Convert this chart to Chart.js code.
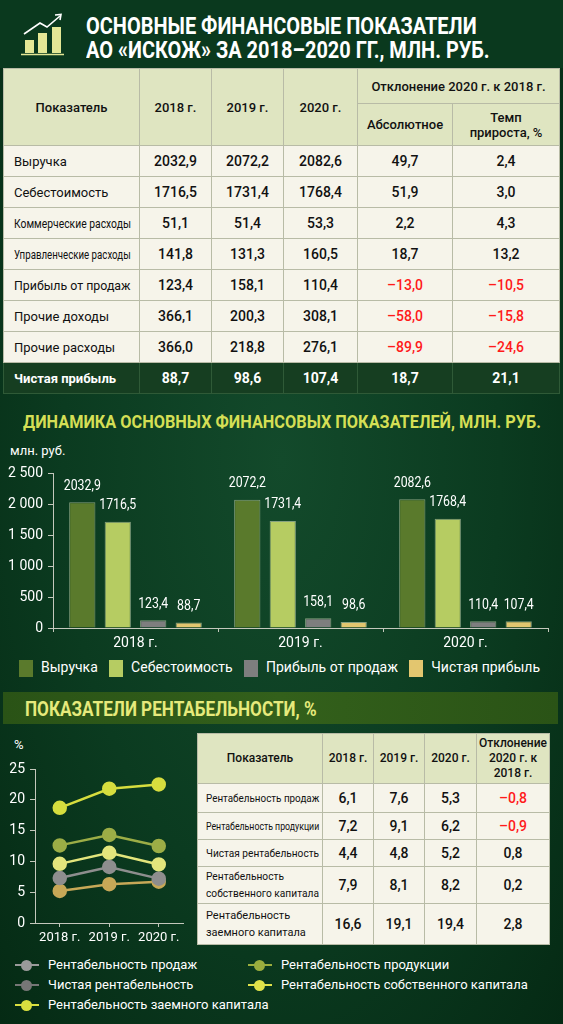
<!DOCTYPE html>
<html lang="ru">
<head>
    <meta charset="UTF-8">
    <title>Основные финансовые показатели АО «ИСКОЖ»</title>
    <script src="https://cdn.jsdelivr.net/npm/chart.js"></script>
    <style>
        html, body { margin:0; padding:0; }
        body { width:563px; height:1024px; position:relative; overflow:hidden; font-family: Roboto, 'Noto Sans', Arial, sans-serif;
               background: radial-gradient(ellipse at 50% 45%, #134a2b 0%, #0b3b20 55%, #052a14 100%); color:#fff; }
        .abs { position:absolute; }
        .cond { font-family: Roboto, 'Noto Sans', sans-serif; font-weight:700; white-space:nowrap; transform-origin:left top; }
        .fit { display:inline-block; white-space:nowrap; transform-origin:left center; }
        #header { left:0; top:0; width:563px; height:68px; background:#0a391e; }
        .ttl { left:86px; font-size:24px; line-height:24px; color:#fff; }
        table { border-collapse:collapse; color:#111; table-layout:fixed; }
        td, th { border:1px solid #b8bba6; text-align:center; padding:0; overflow:hidden; }
        #finTable { left:3px; top:68px; width:557px; font-size:13px; }
        #finTable th { background:#dfe5c1; font-weight:500; }
        #finTable td { background:#f6f4ea; height:30px; font-weight:500; font-size:14px; }
        #finTable td.lbl { text-align:left; padding-left:10px; font-weight:400; font-size:13px; }
        #finTable tr.total td { background:#163e21; color:#fff; font-weight:700; border-color:#2f5a37; }
        .neg { color:#ff1a1a !important; }
        #barTitle { left:23px; top:412px; font-size:19px; line-height:20px; color:#d4df55; }
        #barUnit { left:10px; top:443px; font-size:13px; }
        #barWrap { left:0; top:460px; width:563px; height:192px; }
        #barLegend { left:19px; top:659px; width:521px; display:flex; justify-content:space-between; font-size:14px; }
        #barLegend span.sw { display:inline-block; width:14px; height:17px; vertical-align:middle; margin-right:8px; }
        #band { left:3px; top:692px; width:555px; height:32px; background:linear-gradient(90deg,#2a5316,#33601b 50%,#2a5316); }
        #bandTitle { left:25px; top:699px; font-size:20px; line-height:20px; color:#e6ea7c; }
        #pctUnit { left:14px; top:737px; font-size:13px; }
        #lineWrap { left:0; top:755px; width:192px; height:195px; }
        #rentTable { left:197px; top:733px; width:353px; font-size:11px; }
        #rentTable th { background:#dfe5c1; font-weight:500; font-size:12px; height:49px; line-height:15px; }
        #rentTable td { background:#f6f4ea; font-size:14px; font-weight:500; }
        #rentTable td.lbl { text-align:left; padding-left:8px; font-size:11px; font-weight:400; line-height:17px; }
        #lineLegend { left:15px; top:957px; width:540px; font-size:13px; display:grid; grid-template-columns:233px 300px; row-gap:5px; }
        #lineLegend div { height:15px; line-height:15px; white-space:nowrap; }
        .mk { display:inline-block; position:relative; width:24px; height:15px; vertical-align:middle; margin-right:9px; }
        .mk i { position:absolute; left:0; top:6px; width:24px; height:2px; }
        .mk b { position:absolute; left:6px; top:2px; width:11px; height:11px; border-radius:50%; }
    </style>
</head>
<body>
    <div id="header" class="abs">
        <svg class="abs" style="left:0;top:0" width="80" height="68">
            <rect x="25" y="40" width="9" height="13" fill="#e4e795"/>
            <rect x="38" y="33" width="9" height="20" fill="#e4e795"/>
            <rect x="52" y="27" width="9" height="26" fill="#e4e795"/>
            <line x1="21" y1="54.5" x2="64" y2="54.5" stroke="#e4e795" stroke-width="1.5"/>
            <polyline points="24,34 40,23 47,27 60,16" fill="none" stroke="#fff" stroke-width="1.6"/>
            <polyline points="55,15 61,14.5 60,20" fill="none" stroke="#fff" stroke-width="1.6"/>
        </svg>
        <div id="title1" class="abs cond ttl" style="top:14px">ОСНОВНЫЕ ФИНАНСОВЫЕ ПОКАЗАТЕЛИ</div>
        <div id="title2" class="abs cond ttl" style="top:38px">АО «ИСКОЖ» ЗА 2018–2020 ГГ., МЛН. РУБ.</div>
    </div>

    <table id="finTable" class="abs">
        <colgroup><col style="width:136px"><col style="width:72px"><col style="width:72px"><col style="width:74px"><col style="width:95px"><col></colgroup>
        <thead>
            <tr style="height:35px">
                <th rowspan="2">Показатель</th>
                <th rowspan="2">2018 г.</th>
                <th rowspan="2">2019 г.</th>
                <th rowspan="2">2020 г.</th>
                <th colspan="2">Отклонение 2020 г. к 2018 г.</th>
            </tr>
            <tr style="height:42px">
                <th>Абсолютное</th>
                <th>Темп<br>прироста, %</th>
            </tr>
        </thead>
        <tbody id="finBody"></tbody>
    </table>

    <div id="barTitle" class="abs cond">ДИНАМИКА ОСНОВНЫХ ФИНАНСОВЫХ ПОКАЗАТЕЛЕЙ, МЛН. РУБ.</div>
    <div id="barUnit" class="abs">млн. руб.</div>
    <div id="barWrap" class="abs"><canvas id="barChart"></canvas></div>
    <div id="barLegend" class="abs"></div>

    <div id="band" class="abs"></div>
    <div id="bandTitle" class="abs cond">ПОКАЗАТЕЛИ РЕНТАБЕЛЬНОСТИ, %</div>
    <div id="pctUnit" class="abs">%</div>
    <div id="lineWrap" class="abs"><canvas id="lineChart"></canvas></div>

    <table id="rentTable" class="abs">
        <colgroup><col style="width:125px"><col style="width:51px"><col style="width:51px"><col style="width:52px"><col></colgroup>
        <thead>
            <tr>
                <th>Показатель</th>
                <th>2018 г.</th>
                <th>2019 г.</th>
                <th>2020 г.</th>
                <th>Отклонение<br>2020 г. к<br>2018 г.</th>
            </tr>
        </thead>
        <tbody id="rentBody"></tbody>
    </table>

    <div id="lineLegend" class="abs"></div>

    <script>
    // таблица основных показателей
    const finNames = ['Выручка', 'Себестоимость', 'Коммерческие расходы', 'Управленческие расходы', 'Прибыль от продаж', 'Прочие доходы', 'Прочие расходы', 'Чистая прибыль'];
    const fin2018 = [2032.9, 1716.5, 51.1, 141.8, 123.4, 366.1, 366.0, 88.7];
    const fin2019 = [2072.2, 1731.4, 51.4, 131.3, 158.1, 200.3, 218.8, 98.6];
    const fin2020 = [2082.6, 1768.4, 53.3, 160.5, 110.4, 308.1, 276.1, 107.4];
    const finAbs = [49.7, 51.9, 2.2, 18.7, -13.0, -58.0, -89.9, 18.7];
    const finRate = [2.4, 3.0, 4.3, 13.2, -10.5, -15.8, -24.6, 21.1];

    // столбчатая диаграмма
    const years = ['2018 г.', '2019 г.', '2020 г.'];
    const barSeries = ['Выручка', 'Себестоимость', 'Прибыль от продаж', 'Чистая прибыль'];
    const revenue = [2032.9, 2072.2, 2082.6];
    const cost = [1716.5, 1731.4, 1768.4];
    const salesProfit = [123.4, 158.1, 110.4];
    const netProfit = [88.7, 98.6, 107.4];
    const barTicks = [0, 500, 1000, 1500, 2000, 2500];

    // рентабельность
    const rentNames = ['Рентабельность продаж', 'Рентабельность продукции', 'Чистая рентабельность', 'Рентабельность собственного капитала', 'Рентабельность заемного капитала'];
    const rent2018 = [6.1, 7.2, 4.4, 7.9, 16.6];
    const rent2019 = [7.6, 9.1, 4.8, 8.1, 19.1];
    const rent2020 = [5.3, 6.2, 5.2, 8.2, 19.4];
    const rentDev = [-0.8, -0.9, 0.8, 0.2, 2.8];

    // линии
    const lineSales = [7.3, 9.1, 7.2];
    const lineProduct = [12.6, 14.3, 12.5];
    const lineNet = [5.2, 6.3, 6.7];
    const lineEquity = [9.6, 11.4, 9.5];
    const lineDebt = [18.7, 21.8, 22.5];
    const lineTicks = [0, 5, 10, 15, 20, 25];

    const barColors = ['#5a7a2c', '#b6cc62', '#7e7e7e', '#e3c66f'];
    const lineColors = ['#8e8e8e', '#9cad46', '#c7a857', '#e3e57c', '#d6dd3e'];
    const lineLegendColors = ['#9a9a9a', '#9aad3e', '#767676', '#e0e34a', '#d9df3f'];

    function fmt(v) {
        const s = Math.abs(v).toFixed(1).replace('.', ',');
        return v < 0 ? '–' + s : s;
    }
    function fmtTick(v) {
        return v >= 1000 ? Math.floor(v / 1000) + ' ' + String(v % 1000).padStart(3, '0') : String(v);
    }
    // сжать текст по ширине, как узкий шрифт в оригинале
    function fitX(el, w, always) {
        const sw = el.scrollWidth || el.getBoundingClientRect().width;
        if (always || sw > w) el.style.transform = `scaleX(${w / sw})`;
    }

    // таблицы
    document.getElementById('finBody').innerHTML = finNames.map((n, i) => {
        const last = i === finNames.length - 1;
        const c = v => v < 0 ? ' class="neg"' : '';
        return `<tr${last ? ' class="total"' : ''}><td class="lbl"><span class="fit">${n}</span></td><td>${fmt(fin2018[i])}</td><td>${fmt(fin2019[i])}</td><td>${fmt(fin2020[i])}</td><td${c(finAbs[i])}>${fmt(finAbs[i])}</td><td${c(finRate[i])}>${fmt(finRate[i])}</td></tr>`;
    }).join('');

    const rentHeights = [29, 27, 27, 37, 41];
    document.getElementById('rentBody').innerHTML = rentNames.map((n, i) => {
        const label = n.replace(/^Рентабельность (собственного|заемного)/, 'Рентабельность<br>$1');
        return `<tr style="height:${rentHeights[i]}px"><td class="lbl"><span class="fit">${label}</span></td><td>${fmt(rent2018[i])}</td><td>${fmt(rent2019[i])}</td><td>${fmt(rent2020[i])}</td><td${rentDev[i] < 0 ? ' class="neg"' : ''}>${fmt(rentDev[i])}</td></tr>`;
    }).join('');

    document.querySelectorAll('#finBody .fit').forEach(el => fitX(el, 117));
    document.querySelectorAll('#rentBody .fit').forEach(el => fitX(el, 113));
    fitX(document.getElementById('title1'), 391, true);
    fitX(document.getElementById('title2'), 404, true);
    fitX(document.getElementById('barTitle'), 518, true);
    fitX(document.getElementById('bandTitle'), 292, true);

    // легенды
    document.getElementById('barLegend').innerHTML = barSeries.map((n, i) =>
        `<div><span class="sw" style="background:${barColors[i]}"></span>${n}</div>`).join('');
    document.getElementById('lineLegend').innerHTML = rentNames.map((n, i) =>
        `<div><span class="mk"><i style="background:${lineLegendColors[i]}"></i><b style="background:${lineLegendColors[i]}"></b></span>${n}</div>`).join('');

    Chart.defaults.font.family = 'Roboto, "Noto Sans", Arial, sans-serif';
    Chart.defaults.color = '#ffffff';
    Chart.defaults.animation = false;

    // подписи значений над столбцами (чуть сжатые по ширине)
    const barLabels = {
        id: 'barLabels',
        afterDatasetsDraw(chart) {
            const ctx = chart.ctx;
            chart.data.datasets.forEach((ds, i) => {
                chart.getDatasetMeta(i).data.forEach((bar, j) => {
                    ctx.save();
                    ctx.fillStyle = '#ffffff';
                    ctx.font = '14px Roboto, "Noto Sans", Arial, sans-serif';
                    ctx.textAlign = 'center';
                    ctx.textBaseline = 'bottom';
                    ctx.translate(bar.x, bar.y - 9);
                    ctx.scale(0.88, 1);
                    ctx.fillText(fmt(ds.data[j]), 0, 0);
                    ctx.restore();
                });
            });
        }
    };

    const axisColor = '#c4c8bc';

    new Chart(document.getElementById('barChart'), {
        type: 'bar',
        data: {
            labels: years,
            datasets: [revenue, cost, salesProfit, netProfit].map((d, i) => ({
                label: barSeries[i],
                data: d,
                backgroundColor: barColors[i],
                borderColor: 'rgba(230,235,200,0.55)',
                borderWidth: 1,
                categoryPercentage: 0.86,
                barPercentage: 0.74
            }))
        },
        options: {
            responsive: true,
            maintainAspectRatio: false,
            layout: { padding: { top: 12, right: 15, left: 0, bottom: 0 } },
            plugins: { legend: { display: false }, tooltip: { enabled: false } },
            scales: {
                x: {
                    grid: { display: true, drawOnChartArea: false, offset: true, color: axisColor, tickLength: 4 },
                    border: { color: axisColor },
                    ticks: { color: '#fff', font: { size: 14 }, padding: 3 },
                    afterFit: s => { s.height = 24; }
                },
                y: {
                    min: 0, max: 2500,
                    afterBuildTicks: s => { s.ticks = barTicks.map(v => ({ value: v })); },
                    grid: { drawOnChartArea: false, color: axisColor, tickLength: 5 },
                    border: { color: axisColor },
                    ticks: { color: '#fff', font: { size: 14 }, padding: 5, callback: v => fmtTick(v) },
                    afterFit: s => { s.width = 53; }
                }
            }
        },
        plugins: [barLabels]
    });

    new Chart(document.getElementById('lineChart'), {
        type: 'line',
        data: {
            labels: years,
            datasets: [lineSales, lineProduct, lineNet, lineEquity, lineDebt].map((d, i) => ({
                label: rentNames[i],
                data: d,
                borderColor: lineColors[i],
                backgroundColor: lineColors[i],
                pointBackgroundColor: lineColors[i],
                pointBorderColor: lineColors[i],
                borderWidth: 2.5,
                pointRadius: 6,
                tension: 0
            }))
        },
        options: {
            responsive: true,
            maintainAspectRatio: false,
            layout: { padding: { top: 14, right: 5, left: 0, bottom: 0 } },
            plugins: { legend: { display: false }, tooltip: { enabled: false } },
            scales: {
                x: {
                    offset: true,
                    grid: { display: true, drawOnChartArea: false, color: axisColor, tickLength: 4 },
                    border: { color: axisColor },
                    ticks: { color: '#fff', font: { size: 13 }, padding: 3, maxRotation: 0, autoSkip: false },
                    afterFit: s => { s.height = 27; }
                },
                y: {
                    min: 0, max: 25,
                    afterBuildTicks: s => { s.ticks = lineTicks.map(v => ({ value: v })); },
                    grid: { drawOnChartArea: false, color: axisColor, tickLength: 5 },
                    border: { color: axisColor },
                    ticks: { color: '#fff', font: { size: 14 }, padding: 5 },
                    afterFit: s => { s.width = 35; }
                }
            }
        }
    });
    </script>
</body>
</html>
